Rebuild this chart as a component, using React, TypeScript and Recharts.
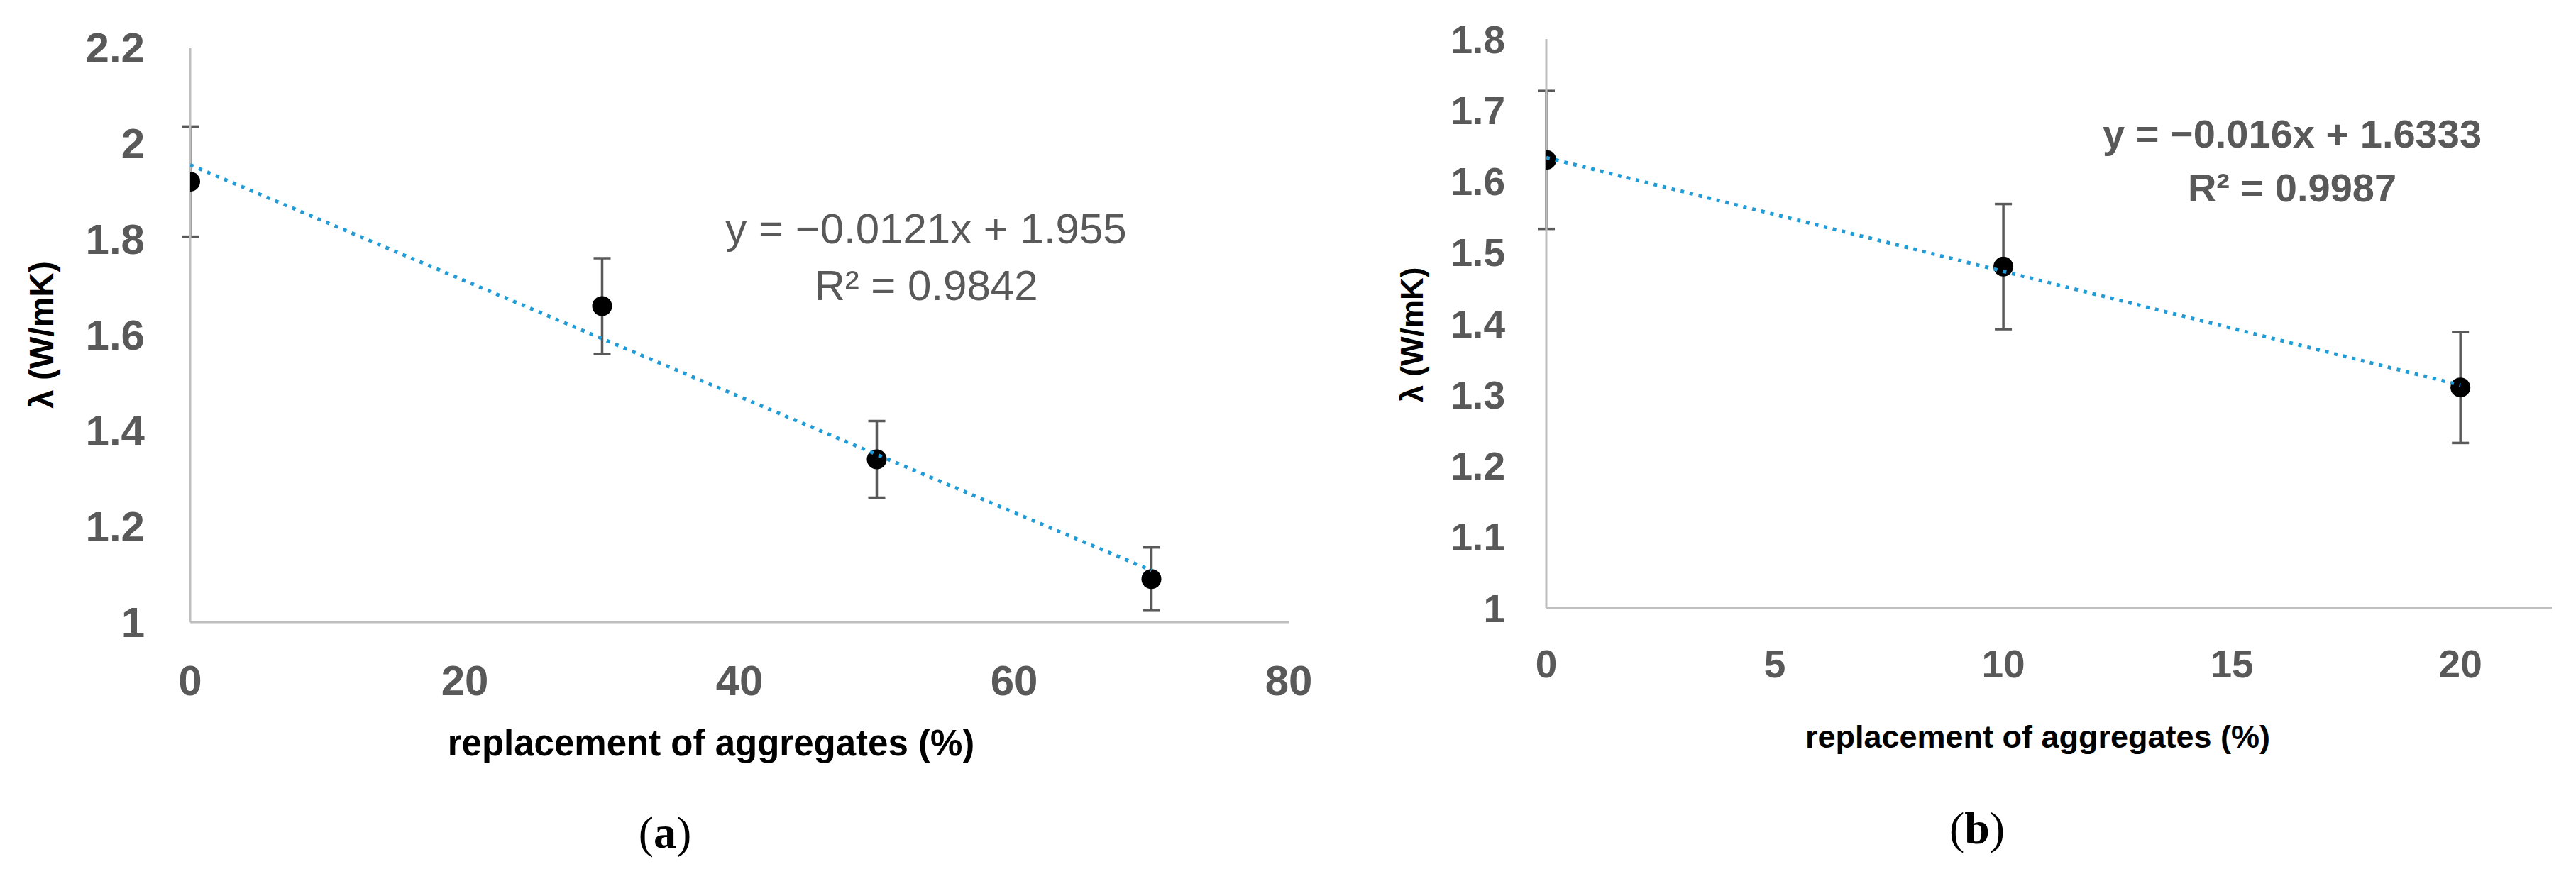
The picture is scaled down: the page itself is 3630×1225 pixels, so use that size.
import { ScatterChart, Scatter, XAxis, YAxis, ErrorBar, Label } from "recharts"

const FONT = "'Liberation Sans', Arial, sans-serif"
const GREY = "#595959"
const AXIS = "#BFBFBF"
const TREND = "#1F9BD7"

// panel (a)
const replacementA = [0, 30, 50, 70]
const lambdaA = [1.92, 1.66, 1.34, 1.09]
const errA = [0.115, 0.1, 0.08, 0.066]
const xTicksA = [0, 20, 40, 60, 80]
const yTicksA = [1, 1.2, 1.4, 1.6, 1.8, 2, 2.2]
const slopeA = -0.0121
const interceptA = 1.955

// panel (b)
const replacementB = [0, 10, 20]
const lambdaB = [1.63, 1.48, 1.31]
const errB = [0.097, 0.088, 0.078]
const xTicksB = [0, 5, 10, 15, 20]
const yTicksB = [1, 1.1, 1.2, 1.3, 1.4, 1.5, 1.6, 1.7, 1.8]
const slopeB = -0.016
const interceptB = 1.6333

const pointsOf = (xs: number[], ys: number[], errs: number[]) =>
  xs.map((x, i) => ({ x, y: ys[i], err: errs[i] }))

const trendOf = (xs: number[], slope: number, intercept: number) => {
  const ends = [xs[0], xs[xs.length - 1]]
  return ends.map((x) => ({ x, y: intercept + slope * x }))
}

const Dot = (props: any) => <circle cx={props.cx} cy={props.cy} r={14} fill="#000" />
const NoDot = () => <g />

const xTitle = (text: string, size: number, dx: number, dy: number) => (props: any) => {
  const vb = props.viewBox
  return (
    <text x={vb.x + vb.width / 2 + dx} y={vb.y + dy} textAnchor="middle" dominantBaseline="central"
      fill="#000" fontSize={size} fontWeight={700} fontFamily={FONT}>{text}</text>
  )
}

const yTitle = (text: string, size: number, x: number, dy: number) => (props: any) => {
  const vb = props.viewBox
  const cy = vb.y + vb.height / 2 + dy
  return (
    <text x={x} y={cy} transform={`rotate(-90, ${x}, ${cy})`} textAnchor="middle" dominantBaseline="central"
      fill="#000" fontSize={size} fontWeight={700} fontFamily={FONT}>{text}</text>
  )
}

function Panel(p: any) {
  return (
    <div style={{ position: "absolute", left: p.left, top: 0 }}>
      <ScatterChart width={p.width} height={1225} margin={p.margin}>
        <XAxis type="number" dataKey="x" domain={p.xDomain} ticks={p.xTicks} interval={0} allowDataOverflow
          tickLine={false} tickSize={0} tickMargin={p.xTickMargin} height={110}
          axisLine={{ stroke: AXIS, strokeWidth: 3 }}
          tick={{ fill: GREY, fontSize: p.tickSize, fontWeight: 700, fontFamily: FONT }}>
          <Label content={xTitle("replacement of aggregates (%)", p.xTitleSize, p.xTitleDx, p.xTitleDy)} />
        </XAxis>
        <YAxis type="number" dataKey="y" domain={p.yDomain} ticks={p.yTicks} interval={0} allowDataOverflow
          tickLine={false} tickSize={0} tickMargin={p.yTickMargin} width={p.yWidth}
          axisLine={{ stroke: AXIS, strokeWidth: 3 }}
          tick={{ fill: GREY, fontSize: p.tickSize, fontWeight: 700, fontFamily: FONT }}>
          <Label content={yTitle("λ (W/mK)", p.yTitleSize, p.yTitleX, p.yTitleDy)} />
        </YAxis>
        <Scatter data={p.points} fill="#000" shape={Dot} isAnimationActive={false}>
          <ErrorBar dataKey="err" direction="y" width={12} stroke={GREY} strokeWidth={3.5} />
        </Scatter>
        <Scatter data={p.trend} shape={NoDot} isAnimationActive={false}
          line={{ stroke: TREND, strokeWidth: 5, strokeDasharray: "5 8" }} />
      </ScatterChart>
    </div>
  )
}

const eqStyle = (cx: number, cy: number, size: number, bold: boolean, lh: number): any => ({
  position: "absolute", left: cx, top: cy, transform: "translate(-50%, -50%)", textAlign: "center",
  whiteSpace: "nowrap", fontFamily: FONT, fontSize: size, fontWeight: bold ? 700 : 400,
  lineHeight: `${lh}px`, color: GREY,
})

const capStyle = (cx: number, cy: number): any => ({
  position: "absolute", left: cx, top: cy, transform: "translate(-50%, -50%)",
  fontFamily: "'Liberation Serif', 'Times New Roman', serif", fontSize: 64, color: "#000", lineHeight: "76px",
})

export default function App() {
  return (
    <div style={{ position: "absolute", left: 0, top: 0, width: 3630, height: 1225, background: "#fff", overflow: "hidden" }}>
      <Panel left={0} width={1900} margin={{ top: 67, right: 84, bottom: 238, left: 0 }} yWidth={268}
        xDomain={[0, 80]} yDomain={[1, 2.2]} xTicks={xTicksA} yTicks={yTicksA}
        points={pointsOf(replacementA, lambdaA, errA)} trend={trendOf(replacementA, slopeA, interceptA)}
        tickSize={60} xTitleSize={51} yTitleSize={48} xTickMargin={60} yTickMargin={64}
        xTitleDx={-40} xTitleDy={170} yTitleX={58} yTitleDy={0} />
      <Panel left={1900} width={1730} margin={{ top: 55, right: 34, bottom: 258, left: 0 }} yWidth={279}
        xDomain={[0, 22]} yDomain={[1, 1.8]} xTicks={xTicksB} yTicks={yTicksB}
        points={pointsOf(replacementB, lambdaB, errB)} trend={trendOf(replacementB, slopeB, interceptB)}
        tickSize={55} xTitleSize={45} yTitleSize={44} xTickMargin={59} yTickMargin={58}
        xTitleDx={-16} xTitleDy={181} yTitleX={89} yTitleDy={16} />
      <div style={eqStyle(1305, 363, 60, false, 80)}>
        <div>y = −0.0121x + 1.955</div>
        <div>R² = 0.9842</div>
      </div>
      <div style={eqStyle(3230, 227, 56, true, 76)}>
        <div>y = −0.016x + 1.6333</div>
        <div>R² = 0.9987</div>
      </div>
      <div style={capStyle(937, 1174)}>(<b>a</b>)</div>
      <div style={capStyle(2786, 1168)}>(<b>b</b>)</div>
    </div>
  )
}
